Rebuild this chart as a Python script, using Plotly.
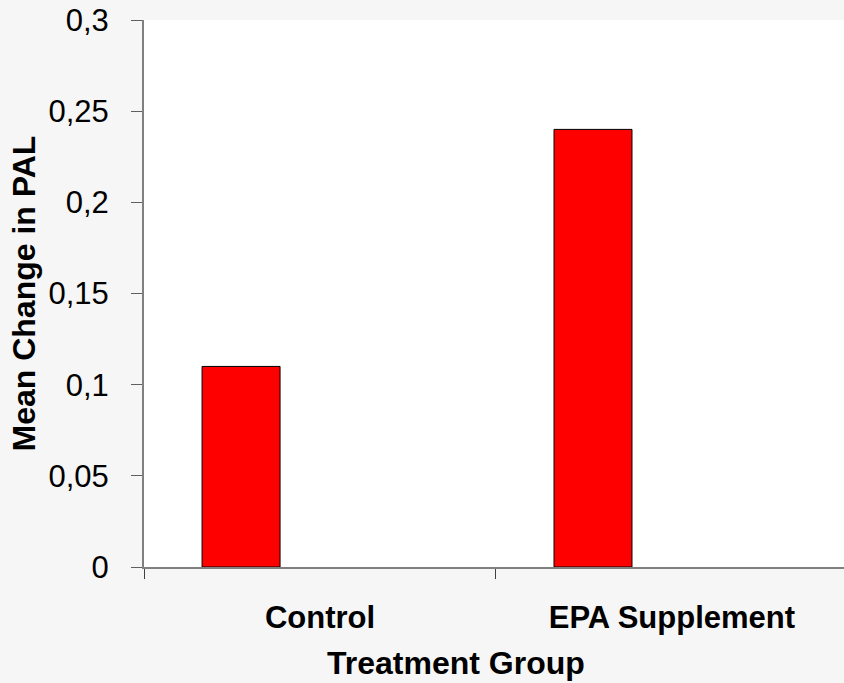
import plotly.graph_objects as go

categories = ["Control", "EPA Supplement"]
mean_change = [0.11, 0.24]
y_title = "Mean Change in PAL"
x_title = "Treatment Group"

FONT = "Arial, Liberation Sans, sans-serif"
W, H = 844, 683
L, R, T, B = 144, 0, 20, 116
pw, ph = W - L - R, H - T - B

fig = go.Figure(
    go.Bar(
        x=categories,
        y=mean_change,
        width=0.2216,
        offset=-0.335,
        marker=dict(color="#ff0000", line=dict(color="#000000", width=1)),
        showlegend=False,
    )
)

fig.update_layout(
    width=W,
    height=H,
    margin=dict(l=L, r=R, t=T, b=B, pad=0),
    paper_bgcolor="#f6f6f6",
    plot_bgcolor="#ffffff",
    separators=",.",
    font=dict(family=FONT, size=31, color="#000000"),
    annotations=[
        dict(
            text="<b>%s</b>" % x_title,
            xref="paper", yref="paper",
            x=(456 - L) / pw, y=(567 - 663) / ph,
            xanchor="center", yanchor="middle",
            showarrow=False,
            font=dict(family=FONT, size=32, color="#000000"),
        ),
        dict(
            text="<b>%s</b>" % y_title,
            xref="paper", yref="paper",
            x=(23 - L) / pw, y=0.5,
            xanchor="center", yanchor="middle",
            textangle=-90,
            showarrow=False,
            font=dict(family=FONT, size=32, color="#000000"),
        ),
    ],
)

fig.update_xaxes(
    type="category",
    range=[-0.5, 1.489],
    showgrid=False,
    zeroline=False,
    showline=True,
    linecolor="#808080",
    linewidth=2,
    ticks="outside",
    tickson="boundaries",
    ticklen=10,
    tickwidth=1,
    tickcolor="#404040",
    tickfont=dict(family=FONT, size=31, color="#000000", weight="bold"),
    ticklabelstandoff=22,
)

fig.update_yaxes(
    range=[0, 0.3],
    dtick=0.05,
    tick0=0,
    showgrid=False,
    zeroline=False,
    showline=True,
    linecolor="#808080",
    linewidth=2,
    ticks="outside",
    ticklen=11,
    tickwidth=1,
    tickcolor="#606060",
    tickfont=dict(family=FONT, size=31, color="#000000"),
    ticklabelstandoff=16,
)

fig.write_html(
    "out.html",
    config={"displayModeBar": False},
    post_script="document.body.style.margin='0';document.body.style.overflow='hidden';document.body.style.background='#f6f6f6';",
)
